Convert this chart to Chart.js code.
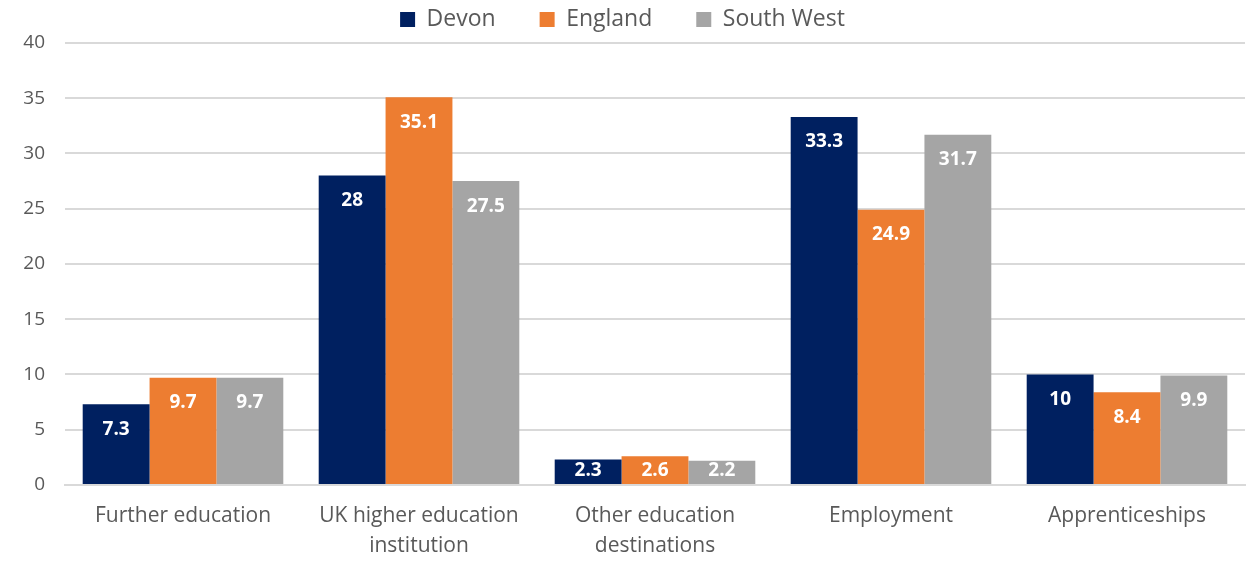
<!DOCTYPE html>
<html>
<head>
<meta charset="utf-8">
<script src="https://cdn.jsdelivr.net/npm/chart.js@4/dist/chart.umd.min.js"></script>
<style>
  html, body { margin: 0; padding: 0; background: #fff; }
  #wrap { width: 1255px; height: 563px; position: relative; }
</style>
</head>
<body>
<div id="wrap"><canvas id="destChart"></canvas></div>
<script>
// ===== DATA =====
const categories = [
    'Further education',
    ['UK higher education', 'institution'],
    ['Other education', 'destinations'],
    'Employment',
    'Apprenticeships'
];
const devon     = [7.3, 28, 2.3, 33.3, 10];
const england   = [9.7, 35.1, 2.6, 24.9, 8.4];
const southWest = [9.7, 27.5, 2.2, 31.7, 9.9];
const yTicks    = [0, 5, 10, 15, 20, 25, 30, 35, 40];

const FONT = "'Open Sans', 'Liberation Sans', sans-serif";

// white value labels inside the top of each bar
const barLabels = {
    id: 'barLabels',
    afterDatasetsDraw(chart) {
        const ctx = chart.ctx;
        const base = chart.scales.y.getPixelForValue(0);
        ctx.save();
        ctx.fillStyle = '#fff';
        ctx.font = 'bold 19px ' + FONT;
        ctx.textAlign = 'center';
        ctx.textBaseline = 'middle';
        chart.data.datasets.forEach((ds, i) => {
            chart.getDatasetMeta(i).data.forEach((bar, j) => {
                let y = bar.y + 25;
                if (y > base - 14) y = base - 14;
                ctx.fillText(String(ds.data[j]), bar.x, y);
            });
        });
        ctx.restore();
    }
};

// legend needs wide gaps between items but little room above it
const legendSpace = {
    id: 'legendSpace',
    beforeInit(chart) {
        const fit = chart.legend.fit;
        chart.legend.fit = function () {
            fit.call(this);
            this.height += 2;
        };
    }
};

const ctx = document.getElementById('destChart').getContext('2d');
new Chart(ctx, {
    type: 'bar',
    data: {
        labels: categories,
        datasets: [
            { label: 'Devon', data: devon, backgroundColor: '#002060' },
            { label: 'England', data: england, backgroundColor: '#ED7D31' },
            { label: 'South West', data: southWest, backgroundColor: '#A5A5A5' }
        ]
    },
    options: {
        responsive: true,
        maintainAspectRatio: false,
        animation: false,
        datasets: {
            bar: { categoryPercentage: 0.85, barPercentage: 1.0 }
        },
        layout: { padding: { left: 0, right: 10, top: -36, bottom: -6 } },
        plugins: {
            legend: {
                position: 'top',
                labels: {
                    boxWidth: 15,
                    boxHeight: 15,
                    padding: 44,
                    color: '#595959',
                    font: { family: FONT, size: 23 }
                }
            },
            tooltip: { enabled: false }
        },
        scales: {
            x: {
                grid: { display: false },
                border: { color: '#d9d9d9', width: 2 },
                ticks: {
                    color: '#595959',
                    font: { family: FONT, size: 21, lineHeight: 1.43 },
                    padding: 8,
                    maxRotation: 0
                }
            },
            y: {
                min: 0,
                max: 40,
                afterBuildTicks: (axis) => { axis.ticks = yTicks.map(v => ({ value: v })); },
                afterFit: (axis) => { axis.width = 65; },
                grid: { color: '#d9d9d9', lineWidth: 2, drawTicks: false },
                border: { display: false },
                ticks: {
                    color: '#595959',
                    font: { family: FONT, size: 19 },
                    padding: 20
                }
            }
        }
    },
    plugins: [barLabels, legendSpace]
});
</script>
</body>
</html>
